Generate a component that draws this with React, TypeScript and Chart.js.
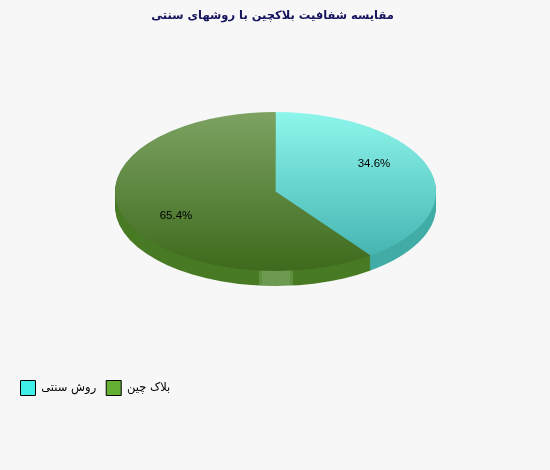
import { useEffect, useRef } from 'react';
import { Chart, registerables } from 'chart.js';
import type { Plugin } from 'chart.js';

Chart.register(...registerables);

const chartTitle = 'مقایسه شفافیت بلاکچین با روشهای سنتی';
const categories = ['روش سنتی', 'بلاک چین'];
// the reference prints 34.6 / 65.4 but its wedge is drawn at about 40 / 60
const wedgeShares = [39.9, 60.1];
const printedLabels = ['34.6%', '65.4%'];
const legendColors = ['#40f0e8', '#63b032'];
const topColors = [['#8ef6ec', '#3eaeab'], ['#7da262', '#3d6a1c']];
const sideColors = ['#42aca6', '#487a24'];

const CENTER_X = 275.5;
const CENTER_Y = 191.5;
const RADIUS = 160.5;
const TILT = 0.495;
const DEPTH = 15;
const BG = '#f7f7f7';

// squashes the round pie to an ellipse and extrudes the rim below it
const tiltPlugin: Plugin<'pie'> = {
  id: 'tilt',
  beforeDatasetsDraw(chart) {
    const { ctx } = chart;
    const arcs = chart.getDatasetMeta(0).data as any[];

    const rim = ctx.createLinearGradient(255, 0, 297, 0);
    rim.addColorStop(0, sideColors[1]);
    rim.addColorStop(0.09, sideColors[1]);
    rim.addColorStop(0.095, '#5f9040');
    rim.addColorStop(0.16, '#5f9040');
    rim.addColorStop(0.165, '#6b9a50');
    rim.addColorStop(0.83, '#6b9a50');
    rim.addColorStop(0.835, '#5f9040');
    rim.addColorStop(0.9, '#5f9040');
    rim.addColorStop(0.905, sideColors[1]);
    rim.addColorStop(1, sideColors[1]);

    for (let d = DEPTH; d > 0; d--) {
      arcs.forEach((arc, i) => {
        ctx.save();
        ctx.translate(CENTER_X, CENTER_Y + d);
        ctx.scale(1, TILT);
        ctx.beginPath();
        ctx.moveTo(0, 0);
        ctx.arc(0, 0, arc.outerRadius, arc.startAngle, arc.endAngle);
        ctx.closePath();
        ctx.restore();
        ctx.fillStyle = i === 1 ? rim : sideColors[i];
        ctx.fill();
      });
    }

    ctx.save();
    ctx.translate(CENTER_X, CENTER_Y);
    ctx.scale(1, TILT);
    ctx.translate(-arcs[0].x, -arcs[0].y);
  },
  afterDatasetsDraw(chart) {
    const { ctx } = chart;
    ctx.restore();

    const spots = [[98.5, -28], [-99.5, 24]];
    ctx.save();
    ctx.font = '11.5px "Liberation Sans"';
    ctx.fillStyle = '#000';
    ctx.textAlign = 'center';
    ctx.textBaseline = 'middle';
    printedLabels.forEach((t, i) => {
      ctx.fillText(t, CENTER_X + spots[i][0], CENTER_Y + spots[i][1]);
    });
    ctx.restore();
  },
};

export default function App() {
  const canvasRef = useRef<HTMLCanvasElement>(null);

  useEffect(() => {
    if (!canvasRef.current) return;
    document.body.style.margin = '0';

    const chart = new Chart(canvasRef.current, {
      type: 'pie',
      data: {
        labels: categories,
        datasets: [{
          data: wedgeShares,
          borderWidth: 0,
          backgroundColor: (c: any) => {
            const area = c.chart.chartArea;
            if (!area) return legendColors[c.dataIndex];
            const cy = (area.top + area.bottom) / 2;
            const g = c.chart.ctx.createLinearGradient(0, cy - RADIUS, 0, cy + RADIUS);
            g.addColorStop(0, topColors[c.dataIndex][0]);
            g.addColorStop(1, topColors[c.dataIndex][1]);
            return g;
          },
        }],
      },
      options: {
        responsive: false,
        animation: false,
        devicePixelRatio: 1,
        radius: RADIUS,
        layout: { padding: { left: 10.5, right: 15.5, top: 0, bottom: 64.5 } },
        plugins: {
          tooltip: { enabled: false },
          title: {
            display: true,
            text: chartTitle,
            color: '#14145e',
            font: { family: '"DejaVu Sans"', size: 11.5, weight: 'bold' },
            padding: { top: 9, bottom: 8 },
          },
          legend: {
            position: 'bottom',
            align: 'start',
            rtl: false,
            labels: {
              boxWidth: 15,
              boxHeight: 15,
              padding: 10,
              color: '#000',
              font: { family: '"DejaVu Sans"', size: 11.5 },
              generateLabels: () => categories.map((text, i) => ({
                text,
                fillStyle: legendColors[i],
                strokeStyle: '#000',
                lineWidth: 1,
                index: i,
              })),
            },
          },
        },
      },
      plugins: [tiltPlugin],
    });

    return () => chart.destroy();
  }, []);

  return <canvas ref={canvasRef} width={550} height={470} style={{ display: 'block', background: BG }} />;
}
